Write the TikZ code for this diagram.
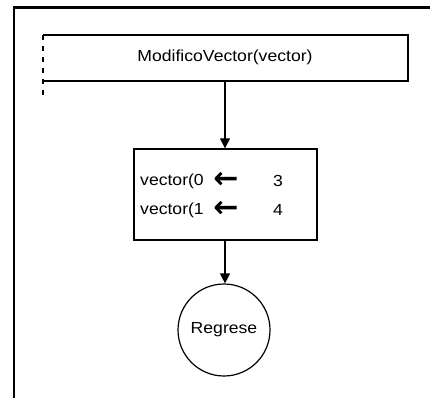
\documentclass[tikz,border=0pt]{standalone}
\usepackage{fontspec}
\setmainfont{Liberation Sans}
\newfontfamily\uifont[FakeStretch=1.1]{Liberation Sans}
\newfontfamily\symfont{DejaVu Sans}
\usetikzlibrary{arrows.meta}
\begin{document}
\begin{tikzpicture}[x=1pt,y=-1pt,
  txt/.style={font=\uifont\fontsize{16}{18}\selectfont,inner sep=0pt},
  sym/.style={inner sep=0pt,font=\symfont\bfseries\fontsize{30}{30}\selectfont},
  flow/.style={line width=1.4pt,-{Triangle[width=10pt,length=10pt]}},
  edge/.style={line width=1.4pt}]
\useasboundingbox (0,0) rectangle (430,398);
\fill[white] (0,0) rectangle (430,398);
% frame
\draw[line width=2.5pt] (14,398) -- (14,7.5) -- (430,7.5);
% top box
\coordinate (tl) at (43,35);
\coordinate (tr) at (408,35);
\coordinate (br) at (408,81);
\coordinate (bl) at (43,81);
\coordinate (dl) at (43,98);
\draw[edge] (tl) -- (tr) -- (br) -- (bl);
\draw[edge,dash pattern=on 5pt off 6pt] (tl) -- (dl);
\node[txt] (call) at (225,57) {ModificoVector(vector)};
\coordinate (callb) at (225,81);
% middle box
\node[draw,line width=1.4pt,minimum width=183pt,minimum height=91pt,inner sep=0pt] (assign) at (225.5,194.5) {};
\node[txt,anchor=west] (v0) at (140,181) {vector(0};
\node[txt,anchor=west] (v1) at (140,210) {vector(1};
\node[sym] (a0) at (226,180) {←};
\node[sym] (a1) at (226,209) {←};
\node[txt] (n3) at (278,181) {3};
\node[txt] (n4) at (278,210) {4};
% circle
\node[draw,circle,line width=1.2pt,minimum size=92pt,inner sep=0pt,txt] (ret) at (224,330) {Regrese};
% connectors
\draw[flow] (callb) -- (callb |- assign.north);
\draw[flow] (assign.south -| callb) -- (ret.north -| callb);
\end{tikzpicture}
\end{document}
